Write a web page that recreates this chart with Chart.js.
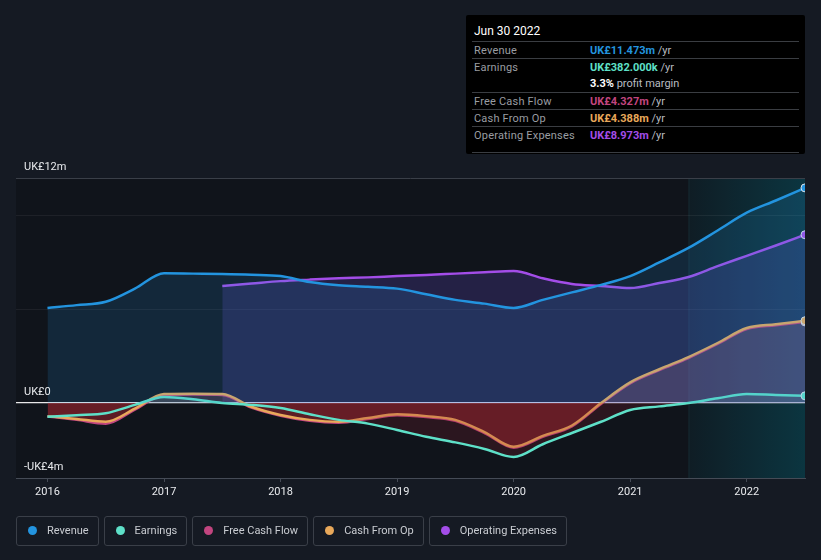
<!DOCTYPE html>
<html>
<head>
<meta charset="utf-8">
<script src="https://cdn.jsdelivr.net/npm/chart.js@4"></script>
<style>
  body { margin: 0; background: #151a23; font-family: Roboto, "Noto Sans", sans-serif; }
  #wrap { position: relative; width: 821px; height: 560px; overflow: hidden; }
  canvas { position: absolute; left: 0; top: 0; }
  .tip { position: absolute; left: 466px; top: 15px; width: 339px; height: 139px; background: #000; border-radius: 2px; }
  .tip .date { position: absolute; left: 8px; top: 9px; color: #fff; font-size: 12px; }
  .tip .row { position: absolute; left: 6px; right: 6px; height: 17px; border-top: 1px solid #3a3d42; font-size: 11px; line-height: 17px; }
  .tip .row.nb { border-top: none; }
  .tip .lab { position: absolute; left: 2px; color: #9a9da2; letter-spacing: 0.2px; }
  .tip .val { position: absolute; left: 118px; font-weight: bold; }
  .tip .val span { color: #b9bcc0; font-weight: normal; }
  .tip .end { position: absolute; left: 6px; right: 6px; top: 137px; border-top: 1px solid #3a3d42; }
  .legend { position: absolute; top: 516px; left: 16px; display: flex; gap: 5px; }
  .legend div { border: 1px solid #3a3f48; border-radius: 3px; color: #c9ccd1; font-size: 11px; line-height: 28px; padding: 0 9px 0 11px; box-sizing: border-box; height: 30px; white-space: nowrap; }
  .legend i { display: inline-block; width: 9px; height: 9px; border-radius: 50%; margin-right: 10px; vertical-align: -1px; }
</style>
</head>
<body>
<div id="wrap">
  <canvas id="chart" width="821" height="560"></canvas>
  <div class="tip">
    <div class="date">Jun 30 2022</div>
    <div class="row" style="top:26px"><span class="lab">Revenue</span><span class="val" style="color:#2394df">UK£11.473m <span>/yr</span></span></div>
    <div class="row" style="top:43px"><span class="lab">Earnings</span><span class="val" style="color:#5ee0c8">UK£382.000k <span>/yr</span></span></div>
    <div class="row nb" style="top:60px"><span class="val" style="color:#fff">3.3% <span>profit margin</span></span></div>
    <div class="row" style="top:77px"><span class="lab">Free Cash Flow</span><span class="val" style="color:#c2457f">UK£4.327m <span>/yr</span></span></div>
    <div class="row" style="top:94px"><span class="lab">Cash From Op</span><span class="val" style="color:#e8a85a">UK£4.388m <span>/yr</span></span></div>
    <div class="row" style="top:111px"><span class="lab">Operating Expenses</span><span class="val" style="color:#a34de8">UK£8.973m <span>/yr</span></span></div>
    <div class="end"></div>
  </div>
  <div class="legend">
    <div><i style="background:#2394df"></i>Revenue</div>
    <div><i style="background:#5ee0c8"></i>Earnings</div>
    <div><i style="background:#c2457f"></i>Free Cash Flow</div>
    <div><i style="background:#e8a85a"></i>Cash From Op</div>
    <div><i style="background:#a34de8"></i>Operating Expenses</div>
  </div>
</div>
<script>
// quarter ends, as decimal years
const quarters = [2016, 2016.25, 2016.5, 2016.75, 2017, 2017.25, 2017.5, 2017.75, 2018, 2018.25, 2018.5, 2018.75,
  2019, 2019.25, 2019.5, 2019.75, 2020, 2020.25, 2020.5, 2020.75, 2021, 2021.25, 2021.5, 2021.75, 2022, 2022.25, 2022.5];

// UK£ millions
const revenue = [5.07, 5.22, 5.4, 6.1, 6.92, 6.9, 6.88, 6.84, 6.77, 6.45, 6.28, 6.2,
  6.1, 5.8, 5.5, 5.3, 5.07, 5.5, 5.9, 6.3, 6.77, 7.5, 8.27, 9.2, 10.15, 10.8, 11.473];
const earnings = [-0.73, -0.65, -0.55, -0.1, 0.32, 0.2, 0.0, -0.1, -0.27, -0.6, -0.9, -1.1,
  -1.44, -1.8, -2.1, -2.45, -2.88, -2.2, -1.6, -1.0, -0.37, -0.18, 0.0, 0.25, 0.48, 0.43, 0.382];
const freeCashFlow = [-0.72, -0.9, -1.1, -0.35, 0.43, 0.45, 0.43, -0.25, -0.68, -0.95, -1.05, -0.85,
  -0.65, -0.75, -0.95, -1.6, -2.38, -1.8, -1.25, -0.05, 1.05, 1.75, 2.4, 3.15, 3.95, 4.15, 4.327];
const cashFromOp = [-0.7, -0.85, -1.0, -0.3, 0.48, 0.5, 0.48, -0.2, -0.64, -0.9, -1.0, -0.8,
  -0.6, -0.7, -0.9, -1.55, -2.33, -1.75, -1.2, 0.0, 1.1, 1.8, 2.45, 3.2, 4.0, 4.2, 4.388];
const opExpenses = [null, null, null, null, null, null, 6.24, 6.37, 6.5, 6.58, 6.65, 6.7,
  6.77, 6.83, 6.9, 6.97, 7.04, 6.65, 6.35, 6.24, 6.13, 6.4, 6.72, 7.3, 7.85, 8.4, 8.973];

const yearTicks = [2016, 2017, 2018, 2019, 2020, 2021, 2022];
const yLabels = [[12, 'UK£12m'], [0, 'UK£0'], [-4, '-UK£4m']];
const yGrid = [-4, 0, 5, 10, 12];
const highlightFrom = 2021.5;

const pts = vals => quarters.map((q, i) => ({ x: q, y: vals[i] }));
const last = quarters.length - 1;
const endDot = ctx => ctx.dataIndex === last ? 4 : 0;

function series(label, vals, color, fill, order) {
  return {
    label: label,
    data: pts(vals),
    order: order,
    borderColor: color,
    backgroundColor: color,
    pointBackgroundColor: color,
    pointBorderColor: '#dfe3e8',
    pointBorderWidth: 1,
    pointRadius: endDot,
    borderWidth: 2.5,
    cubicInterpolationMode: 'monotone',
    spanGaps: false,
    fill: fill
  };
}

// fond de la zone de tracé + bande mise en évidence
const backdrop = {
  id: 'backdrop',
  beforeDraw(chart) {
    const { ctx, chartArea: a, scales } = chart;
    ctx.save();
    ctx.fillStyle = '#10141b';
    ctx.fillRect(a.left, a.top, a.right - a.left, a.bottom - a.top);
    const x0 = scales.x.getPixelForValue(highlightFrom);
    const g = ctx.createLinearGradient(x0, 0, a.right, 0);
    g.addColorStop(0, 'rgba(0,130,150,0.08)');
    g.addColorStop(1, 'rgba(0,130,150,0.30)');
    ctx.fillStyle = g;
    ctx.fillRect(x0, a.top, a.right - x0, a.bottom - a.top);
    ctx.fillStyle = 'rgba(120,200,220,0.08)';
    ctx.fillRect(x0, a.top, 1, a.bottom - a.top);
    ctx.restore();
  },
  afterDraw(chart) {
    const { ctx, chartArea: a, scales } = chart;
    ctx.save();
    ctx.font = '11px Roboto, sans-serif';
    ctx.fillStyle = '#e8eaed';
    yLabels.forEach(([v, t]) => {
      ctx.fillText(t, a.left + 8, scales.y.getPixelForValue(v) - 8);
    });
    ctx.restore();
  }
};

new Chart(document.getElementById('chart'), {
  type: 'line',
  data: {
    datasets: [
      series('Revenue', revenue, '#2394df', { target: 'origin', above: 'rgba(35,148,223,0.16)', below: 'rgba(35,148,223,0.16)' }, 1),
      series('Earnings', earnings, '#5ee0c8', { target: 'origin', above: 'rgba(94,224,200,0.10)', below: 'rgba(140,30,45,0.22)' }, 2),
      series('Free Cash Flow', freeCashFlow, '#c2457f', { target: 'origin', above: 'rgba(205,110,140,0.22)', below: 'rgba(185,40,50,0.45)' }, 4),
      series('Cash From Op', cashFromOp, '#e8a85a', false, 3),
      series('Operating Expenses', opExpenses, '#a34de8', { target: 'origin', above: 'rgba(110,80,220,0.22)', below: 'rgba(110,80,220,0.22)' }, 5)
    ]
  },
  options: {
    responsive: false,
    animation: false,
    layout: { padding: { left: 16, right: 16, top: 178, bottom: 52 } },
    plugins: { legend: { display: false }, tooltip: { enabled: false } },
    scales: {
      x: {
        type: 'linear',
        min: 2015.73,
        max: 2022.5,
        afterBuildTicks: s => { s.ticks = yearTicks.map(v => ({ value: v })); },
        afterFit: s => { s.height = 30; },
        ticks: { color: '#e8eaed', font: { size: 11, family: 'Roboto' }, padding: 4, callback: v => String(v) },
        grid: { drawOnChartArea: false, drawTicks: true, tickLength: 4, color: '#454b56' },
        border: { color: '#454b56' }
      },
      y: {
        min: -4,
        max: 12,
        afterBuildTicks: s => { s.ticks = yGrid.map(v => ({ value: v })); },
        afterFit: s => { s.width = 0; },
        ticks: { display: false },
        grid: {
          drawTicks: false,
          color: ctx => ctx.tick.value === 0 ? '#e8e8ea' : ctx.tick.value === 12 ? '#3a3f48' : 'rgba(255,255,255,0.06)',
          lineWidth: ctx => ctx.tick.value === 0 ? 1.2 : 1
        },
        border: { display: false }
      }
    }
  },
  plugins: [backdrop]
});
</script>
</body>
</html>
